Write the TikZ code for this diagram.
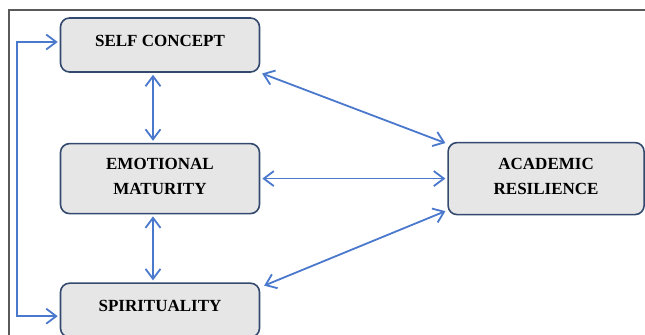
\documentclass[tikz,border=0pt]{standalone}
\usepackage{fontspec}
\setmainfont{Liberation Serif}
\usetikzlibrary{arrows.meta,positioning}
\definecolor{boxfill}{HTML}{E6E6E6}
\definecolor{boxline}{HTML}{34496E}
\definecolor{linkblue}{HTML}{4A78CC}
\definecolor{framegray}{HTML}{5A5A5A}

\begin{document}
\begin{tikzpicture}[
    x=0.5pt, y=-0.5pt,
    node distance=36pt,
    box/.style={rectangle,rounded corners=4.5pt,draw=boxline,fill=boxfill,line width=0.8pt,
      minimum width=99.5pt,minimum height=27pt,align=center,text depth=4.5pt,
      font=\bfseries\fontsize{8.5}{12.5}\selectfont},
    link/.style={draw=linkblue,line width=0.9pt,
      {Straight Barb[length=5pt,width=7.5pt]}-{Straight Barb[length=5pt,width=7.5pt]},
      shorten <=1pt,shorten >=1pt}
]
\useasboundingbox (0,0) rectangle (645,335);

% Frame
\draw[framegray,line width=0.9pt] (9,335) -- (9,10) -- (645,10);

% Constructs
\node[box] (self) at (160,45) {SELF CONCEPT};
\node[box,minimum height=35pt,text depth=2pt,below=35pt of self] (emot) {EMOTIONAL\\MATURITY};
\node[box,below=34pt of emot] (spirit) {SPIRITUALITY};
\node[box,minimum width=98pt,minimum height=36pt,text depth=2pt,right=93.5pt of emot] (acad) {ACADEMIC\\RESILIENCE};

% Links between predictors
\draw[link] ([xshift=-3.5pt]self.south) -- ([xshift=-3.5pt]emot.north);
\draw[link] ([xshift=-3.5pt]emot.south) -- ([xshift=-3.5pt]spirit.north);
\draw[link] ([yshift=1.5pt]self.west) -- ++(-21.5pt,0) |- ([yshift=-3pt]spirit.west);

% Links to academic resilience
\draw[link] (self.south east) -- ([yshift=-1pt]acad.north west);
\draw[link] (emot.east) -- (acad.west);
\draw[link] ([xshift=1pt,yshift=-2pt]spirit.north east) -- ([yshift=2.5pt]acad.south west);

\end{tikzpicture}
\end{document}
